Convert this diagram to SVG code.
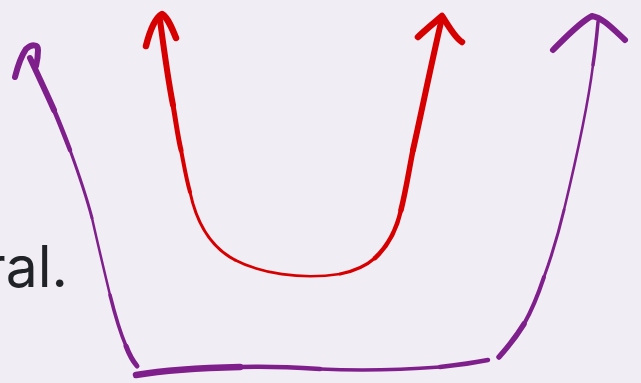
<svg xmlns="http://www.w3.org/2000/svg" width="641" height="383" viewBox="0 0 641 383">
<style>
.bg{fill:#f1edf5}
.txt{font-family:Inter,"Liberation Sans",sans-serif;font-size:57px;fill:#1f2226}
.red{fill:none;stroke:#d60000;stroke-linecap:round;stroke-linejoin:round}
.pur{fill:none;stroke:#7e1f8c;stroke-linecap:round;stroke-linejoin:round}
</style>
<rect class="bg" width="641" height="383"/>
<g id="label"><text class="txt" x="68" y="287" text-anchor="end">ral.</text></g>
<g id="connectors">
  <g id="red-arrow">
    <path class="red" stroke-width="6" d="M160 20 C164 50 168 80 173 105"/>
    <path class="red" stroke-width="5" d="M173 105 C176 122 178 138 181 150"/>
    <path class="red" stroke-width="4" d="M181 150 C184 165 186 178 190 192"/>
    <path class="red" stroke-width="3" d="M190 192 C197 225 212 248 235 260"/>
    <path class="red" stroke-width="2.6" d="M235 260 C260 273 300 280 340 274"/>
    <path class="red" stroke-width="3.2" d="M340 274 C355 271 366 266 375 258"/>
    <path class="red" stroke-width="4.5" d="M375 258 C388 246 396 232 401 210"/>
    <path class="red" stroke-width="5.5" d="M401 210 C406 190 409 170 413 150"/>
    <path class="red" stroke-width="6" d="M413 150 C422 110 431 65 442 18"/>
    <path class="red" stroke-width="6.5" d="M146 46 C150 30 155 18 162 14 C168 18 172 28 176 38"/>
    <path class="red" stroke-width="6.5" d="M418 37 C425 30 435 22 442 16 C448 25 455 38 462 42"/>
  </g>
  <g id="purple-arrow">
    <path class="pur" stroke-width="6" d="M15 77 C18 65 22 55 26 49 C32 44 38 44 38 50 C38 56 37 62 36 66"/>
    <path class="pur" stroke-width="6" d="M30 58 C38 75 46 92 54 110"/>
    <path class="pur" stroke-width="4.5" d="M54 110 C60 124 65 137 70 150"/>
    <path class="pur" stroke-width="3" d="M70 150 C78 172 86 195 92 218"/>
    <path class="pur" stroke-width="2.5" d="M92 218 C98 245 104 270 110 295"/>
    <path class="pur" stroke-width="3.5" d="M110 295 C115 315 120 332 126 346"/>
    <path class="pur" stroke-width="5" d="M126 346 C129 354 132 360 137 366"/>
    <path class="pur" stroke-width="6.5" d="M136 375 C160 371 195 368 240 367"/>
    <path class="pur" stroke-width="4.5" d="M240 367 C265 366 290 367 320 369"/>
    <path class="pur" stroke-width="3.5" d="M320 369 C360 371 400 370 440 367"/>
    <path class="pur" stroke-width="4.5" d="M440 367 C458 365 473 363 488 360"/>
    <path class="pur" stroke-width="5.5" d="M499 357 C508 347 516 337 524 324"/>
    <path class="pur" stroke-width="4" d="M524 324 C532 310 538 295 544 277"/>
    <path class="pur" stroke-width="3" d="M544 277 C552 255 558 235 564 210"/>
    <path class="pur" stroke-width="2.5" d="M564 210 C576 160 588 105 593 65"/>
    <path class="pur" stroke-width="3.5" d="M593 65 C596 45 597 33 598 22"/>
    <path class="pur" stroke-width="6" d="M553 50 C565 38 580 22 592 16 C603 18 612 28 625 40"/>
  </g>
</g>
</svg>
